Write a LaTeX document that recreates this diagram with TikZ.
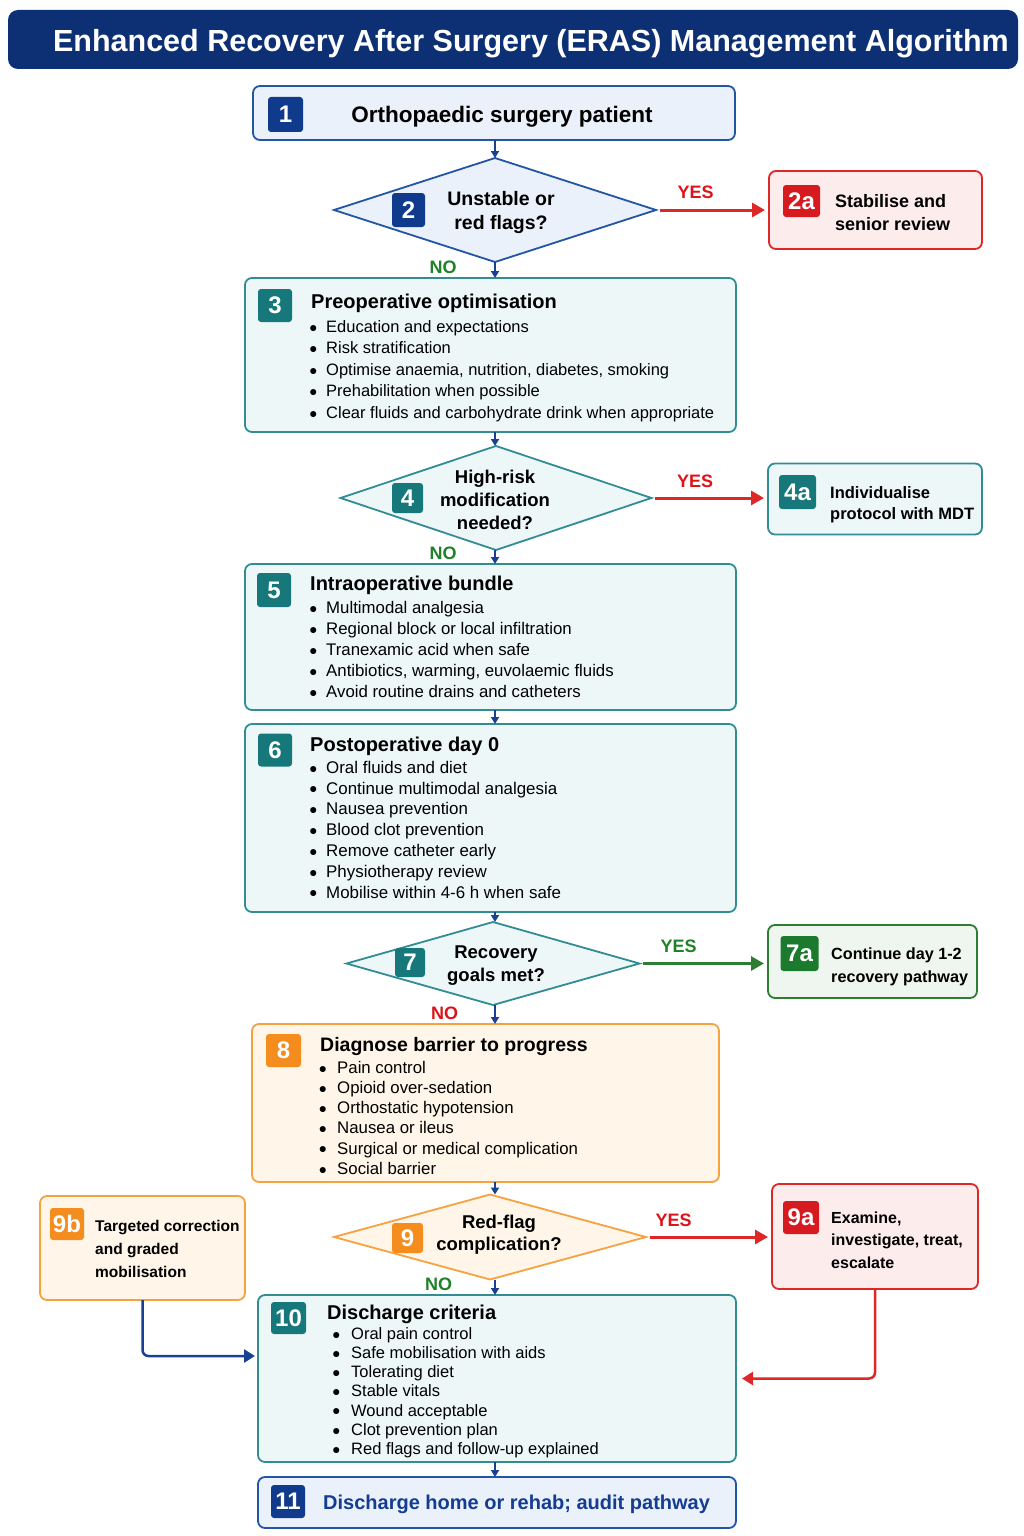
\documentclass[tikz,border=0pt]{standalone}
\usepackage{fontspec}
\setmainfont{Liberation Sans}
\usetikzlibrary{shapes.geometric,arrows.meta,calc}
\definecolor{navy}{RGB}{12,48,115}
\definecolor{bluebadge}{RGB}{16,58,140}
\definecolor{blueline}{RGB}{35,85,165}
\definecolor{bluefill}{RGB}{234,241,250}
\definecolor{tealbadge}{RGB}{22,120,122}
\definecolor{tealline}{RGB}{50,140,148}
\definecolor{tealfill}{RGB}{237,247,247}
\definecolor{redbadge}{RGB}{215,25,32}
\definecolor{redline}{RGB}{222,40,40}
\definecolor{redfill}{RGB}{253,236,236}
\definecolor{orbadge}{RGB}{245,140,30}
\definecolor{orline}{RGB}{246,162,64}
\definecolor{orfill}{RGB}{255,245,232}
\definecolor{grbadge}{RGB}{27,122,45}
\definecolor{grline}{RGB}{46,125,50}
\definecolor{grfill}{RGB}{239,246,239}
\definecolor{grtext}{RGB}{30,130,40}
\definecolor{redtext}{RGB}{220,20,25}
\definecolor{arrblue}{RGB}{25,65,145}
\definecolor{bluetext}{RGB}{20,60,145}
\newcommand\fsz[2]{\fontsize{#1}{#2}\selectfont}
\newcommand\bu[1][17]{\makebox[#1pt][l]{\raisebox{0.2pt}{\fsz{14}{14}●}}}
\newcommand\rl[1]{\rule{0pt}{#1pt}}
\tikzset{
  box/.style 2 args={draw=#1, fill=#2, line width=1.8pt, rounded corners=7pt, inner sep=0pt, outer sep=0pt},
  bluebox/.style={box={blueline}{bluefill}},
  tealbox/.style={box={tealline}{tealfill}},
  redbox/.style={box={redline}{redfill}},
  orbox/.style={box={orline}{orfill}},
  grbox/.style={box={grline}{grfill}},
  dia/.style 2 args={diamond, draw=#1, fill=#2, line width=1.8pt, inner sep=0pt, outer sep=0pt},
  badge/.style={fill=#1, rounded corners=3pt, text=white, inner sep=0pt, font=\fsz{24}{24}\bfseries},
  tb/.style={inner sep=0pt, anchor=base west},
  tc/.style={inner sep=0pt, anchor=base},
  ml/.style={inner sep=0pt, anchor=north west, align=left, yshift=#1},
  mc/.style={inner sep=0pt, anchor=north, align=center, yshift=#1},
  lbl/.style={inner sep=0pt, anchor=base, font=\fsz{18}{18}\bfseries},
  varr/.style={draw=arrblue, line width=2pt, -{Triangle[length=7pt,width=8pt]}},
  yesr/.style={draw=redline, line width=3pt, shorten <=3.5pt, shorten >=4pt, -{Triangle[length=13pt,width=14pt]}},
  yesg/.style={draw=grline, line width=3pt, shorten <=3.5pt, shorten >=4pt, -{Triangle[length=13pt,width=14pt]}},
  bendb/.style={draw=arrblue, line width=2.5pt, rounded corners=6pt, -{Triangle[length=11pt,width=13pt]}},
  bendr/.style={draw=redline, line width=2.5pt, rounded corners=6pt, -{Triangle[length=11pt,width=13pt]}},
}
\begin{document}
\begin{tikzpicture}[x=1pt,y=-1pt]
\fill[white] (0,0) rectangle (1024,1536);
\useasboundingbox (0,0) rectangle (1024,1536);

% title
\node[fill=navy, rounded corners=10pt, minimum width=1010pt, minimum height=59pt, inner sep=0pt] (tbar) at (513,39.5) {};
\node[tc, text=white, font=\fsz{30.5}{30.5}\bfseries] (ttl) at (531,51.7) {Enhanced Recovery After Surgery (ERAS) Management Algorithm};

% boxes
\node[bluebox, minimum width=482pt, minimum height=54pt] (b1) at (494,113) {};
\node[dia={blueline}{bluefill}, minimum width=322pt, minimum height=104pt] (d2) at (495,210) {};
\node[redbox, minimum width=213pt, minimum height=78pt] (b2a) at (875.5,210) {};
\node[tealbox, minimum width=491pt, minimum height=154pt] (b3) at (490.5,355) {};
\node[dia={tealline}{tealfill}, minimum width=311pt, minimum height=104pt] (d4) at (496,498) {};
\node[tealbox, minimum width=214pt, minimum height=71pt] (b4a) at (875,499) {};
\node[tealbox, minimum width=491pt, minimum height=146pt] (b5) at (490.5,637) {};
\node[tealbox, minimum width=491pt, minimum height=188pt] (b6) at (490.5,818) {};
\node[dia={tealline}{tealfill}, minimum width=293pt, minimum height=83pt] (d7) at (493,963.5) {};
\node[grbox, minimum width=209pt, minimum height=73pt] (b7a) at (872.5,961.5) {};
\node[orbox, minimum width=467pt, minimum height=158pt] (b8) at (485.5,1103) {};
\node[dia={orline}{orfill}, minimum width=312pt, minimum height=85pt] (d9) at (490,1237) {};
\node[redbox, minimum width=206pt, minimum height=105pt] (b9a) at (875,1236.5) {};
\node[orbox, minimum width=205pt, minimum height=104pt] (b9b) at (142.5,1248) {};
\node[tealbox, minimum width=478pt, minimum height=167pt] (b10) at (497,1378.5) {};
\node[bluebox, minimum width=478pt, minimum height=51pt] (b11) at (497,1502.5) {};

% badges
\node[badge=bluebadge, minimum width=35pt, minimum height=35pt] (k1) at (285.5,114.5) {1};
\node[badge=bluebadge, minimum width=33pt, minimum height=34pt] (k2) at (408.5,210) {2};
\node[badge=redbadge, minimum width=37pt, minimum height=32pt] (k2a) at (801.5,201) {2a};
\node[badge=tealbadge, minimum width=34pt, minimum height=33pt] (k3) at (275,305.5) {3};
\node[badge=tealbadge, minimum width=31pt, minimum height=30pt] (k4) at (407.5,498) {4};
\node[badge=tealbadge, minimum width=37pt, minimum height=34pt] (k4a) at (797.5,492) {4a};
\node[badge=tealbadge, minimum width=34pt, minimum height=34pt] (k5) at (274,590) {5};
\node[badge=tealbadge, minimum width=34pt, minimum height=33pt] (k6) at (275,750) {6};
\node[badge=tealbadge, minimum width=30pt, minimum height=29pt] (k7) at (410,962.5) {7};
\node[badge=grbadge, minimum width=38pt, minimum height=35pt] (k7a) at (799.5,953.5) {7a};
\node[badge=orbadge, minimum width=35pt, minimum height=33pt] (k8) at (283.5,1050.5) {8};
\node[badge=orbadge, minimum width=31pt, minimum height=30pt] (k9) at (407.5,1238) {9};
\node[badge=redbadge, minimum width=36pt, minimum height=33pt] (k9a) at (801,1217.5) {9a};
\node[badge=orbadge, minimum width=34pt, minimum height=32pt] (k9b) at (67,1224) {9b};
\node[badge=tealbadge, minimum width=35pt, minimum height=32pt] (k10) at (288.5,1318) {10};
\node[badge=bluebadge, minimum width=34pt, minimum height=33pt] (k11) at (288,1501.5) {11};

% texts
\node[tc, font=\fsz{22.5}{22.5}\bfseries] (t1) at (502,123) {Orthopaedic surgery patient};
\node[mc=15.6pt, font=\fsz{19.5}{24}\bfseries] (t2) at (501,205) {\rl{15.6}Unstable or\\red flags?};
\node[ml=14.4pt, font=\fsz{18}{23.5}\bfseries] (t2a) at (835,207) {\rl{14.4}Stabilise and\\senior review};
\node[tb, font=\fsz{20}{20}\bfseries] (t3) at (311,308) {Preoperative optimisation};
\node[ml=13.2pt, font=\fsz{16.5}{21.5}] (l3) at (309,332) {\rl{13.2}\bu Education and expectations\\\bu Risk stratification\\\bu Optimise anaemia, nutrition, diabetes, smoking\\\bu Prehabilitation when possible\\\bu Clear fluids and carbohydrate drink when appropriate};
\node[mc=14.8pt, font=\fsz{18.5}{23}\bfseries] (t4) at (495,483) {\rl{14.8}High-risk\\modification\\needed?};
\node[ml=13.2pt, font=\fsz{16.5}{21.5}\bfseries] (t4a) at (830,498) {\rl{13.2}Individualise\\protocol with MDT};
\node[tb, font=\fsz{20}{20}\bfseries] (t5) at (310,590) {Intraoperative bundle};
\node[ml=13.2pt, font=\fsz{16.8}{21}] (l5) at (309,613) {\rl{13.2}\bu Multimodal analgesia\\\bu Regional block or local infiltration\\\bu Tranexamic acid when safe\\\bu Antibiotics, warming, euvolaemic fluids\\\bu Avoid routine drains and catheters};
\node[tb, font=\fsz{20}{20}\bfseries] (t6) at (310,751) {Postoperative day 0};
\node[ml=13.2pt, font=\fsz{16.9}{20.83}] (l6) at (309,773) {\rl{13.2}\bu Oral fluids and diet\\\bu Continue multimodal analgesia\\\bu Nausea prevention\\\bu Blood clot prevention\\\bu Remove catheter early\\\bu Physiotherapy review\\\bu Mobilise within 4-6 h when safe};
\node[mc=14.8pt, font=\fsz{18.5}{23}\bfseries] (t7) at (496,958) {\rl{14.8}Recovery\\goals met?};
\node[ml=13.2pt, font=\fsz{16.2}{23}\bfseries] (t7a) at (831,959) {\rl{13.2}Continue day 1-2\\recovery pathway};
\node[tb, font=\fsz{19.5}{19.5}\bfseries] (t8) at (320,1051) {Diagnose barrier to progress};
\node[ml=13.2pt, font=\fsz{16.8}{20.2}] (l8) at (318.5,1073) {\rl{13.2}\bu[18.5]Pain control\\\bu[18.5]Opioid over-sedation\\\bu[18.5]Orthostatic hypotension\\\bu[18.5]Nausea or ileus\\\bu[18.5]Surgical or medical complication\\\bu[18.5]Social barrier};
\node[mc=14.8pt, font=\fsz{18.5}{22.5}\bfseries] (t9) at (499,1228) {\rl{14.8}Red-flag\\complication?};
\node[ml=12.8pt, font=\fsz{16}{22.5}\bfseries] (t9a) at (831,1223) {\rl{12.8}Examine,\\investigate, treat,\\escalate};
\node[ml=12.4pt, font=\fsz{15.5}{23}\bfseries] (t9b) at (95,1231) {\rl{12.4}Targeted correction\\and graded\\mobilisation};
\node[tb, font=\fsz{20}{20}\bfseries] (t10) at (327,1319) {Discharge criteria};
\node[ml=13.2pt, font=\fsz{16.5}{19.2}] (l10) at (332,1339) {\rl{13.2}\bu[19]Oral pain control\\\bu[19]Safe mobilisation with aids\\\bu[19]Tolerating diet\\\bu[19]Stable vitals\\\bu[19]Wound acceptable\\\bu[19]Clot prevention plan\\\bu[19]Red flags and follow-up explained};
\node[tb, text=bluetext, font=\fsz{20}{20}\bfseries] (t11) at (323,1509) {Discharge home or rehab; audit pathway};

% labels
\node[lbl, text=redtext] (y2) at (695.5,198) {YES};
\node[lbl, text=grtext] (n2) at (443,273) {NO};
\node[lbl, text=redtext] (y4) at (695,487) {YES};
\node[lbl, text=grtext] (n4) at (443,559) {NO};
\node[lbl, text=grtext] (y7) at (678.5,952) {YES};
\node[lbl, text=redtext] (n7) at (444.5,1019) {NO};
\node[lbl, text=redtext] (y9) at (673.5,1226) {YES};
\node[lbl, text=grtext] (n9) at (438.5,1290) {NO};

% connectors
\coordinate (ax) at (495,0);
\coordinate (j9b) at (0,1356);
\draw[varr] (b1.south -| ax) -- (d2.north -| ax);
\draw[yesr] (d2.east) -- (d2.east -| b2a.west);
\draw[varr] (d2.south -| ax) -- (b3.north -| ax);
\draw[varr] (b3.south -| ax) -- (d4.north -| ax);
\draw[yesr] (d4.east) -- (d4.east -| b4a.west);
\draw[varr] (d4.south -| ax) -- (b5.north -| ax);
\draw[varr] (b5.south -| ax) -- (b6.north -| ax);
\draw[varr] (b6.south -| ax) -- (d7.north -| ax);
\draw[yesg] (d7.east) -- (d7.east -| b7a.west);
\draw[varr] (d7.south -| ax) -- (b8.north -| ax);
\draw[varr] (b8.south -| ax) -- (d9.north -| ax);
\draw[yesr] (d9.east) -- (d9.east -| b9a.west);
\draw[varr] (d9.south -| ax) -- (b10.north -| ax);
\draw[varr] (b10.south -| ax) -- (b11.north -| ax);
\draw[bendb] (b9b.south) |- ([xshift=-3pt]b10.west |- j9b);
\draw[bendr] (b9a.south) |- ([xshift=6pt]b10.east);
\end{tikzpicture}
\end{document}
